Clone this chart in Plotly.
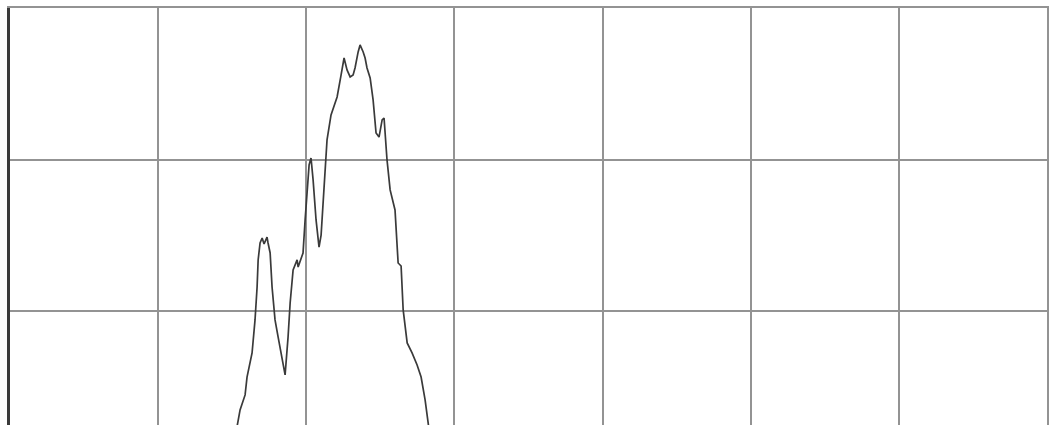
import plotly.graph_objects as go

# Trace (arbitrary units: x 0-700, y 0-300)
x_vals = [152.6, 155.3, 158.7, 160.0, 163.4, 165.4, 166.8, 167.5, 168.8, 170.2,
          171.5, 173.5, 174.2, 175.6, 176.9, 178.9, 181.0, 184.3, 185.7, 187.7,
          189.1, 191.1, 193.8, 194.5, 197.8, 199.2, 200.5, 201.9, 203.2, 204.6,
          206.6, 208.6, 210.0, 212.0, 214.0, 216.7, 220.8, 223.5, 225.5, 227.5,
          229.6, 231.6, 232.9, 235.0, 236.3, 238.4, 239.7, 241.0, 243.1, 245.1,
          247.1, 249.1, 251.2, 252.5, 253.2, 254.5, 256.6, 259.9, 262.0, 264.0,
          265.4, 268.1, 271.4, 274.8, 277.5, 280.2, 282.9]
y_vals = [20.1, 34.7, 44.6, 56.4, 72.3, 94.1, 115.8, 133.7, 144.9, 148.2,
          144.2, 148.8, 144.9, 138.3, 115.8, 94.1, 82.8, 65.7, 57.8, 82.8,
          105.3, 127.1, 133.7, 129.0, 138.3, 160.1, 179.9, 196.4, 201.0, 186.5,
          160.1, 142.2, 150.1, 179.9, 212.9, 229.4, 241.3, 255.8, 267.0, 259.1,
          254.5, 255.8, 260.4, 271.0, 275.6, 271.0, 267.0, 260.4, 253.8, 239.3,
          217.5, 214.8, 226.1, 227.4, 216.2, 199.7, 179.9, 166.7, 131.7, 129.7,
          100.7, 78.9, 72.3, 64.4, 56.4, 41.3, 21.4]

x_range = [0, 700]
y_range = [24.75, 300]
x_tick_step = 100
y_tick_step = 100

fig = go.Figure()
fig.add_trace(go.Scatter(x=x_vals, y=y_vals, mode="lines",
                         line=dict(color="#3a3a3a", width=1.7),
                         showlegend=False, hoverinfo="skip"))
# invisible trace to carry the right-hand border axis
fig.add_trace(go.Scatter(x=[None], y=[None], yaxis="y2", showlegend=False,
                         hoverinfo="skip"))

fig.update_layout(
    width=1049, height=425,
    margin=dict(l=10, r=2, t=8, b=0),
    paper_bgcolor="white", plot_bgcolor="white",
    xaxis=dict(range=x_range, dtick=x_tick_step, tick0=0, showgrid=True,
               gridcolor="#939393", gridwidth=2, zeroline=False,
               showticklabels=False, ticks="", side="top",
               showline=True, linecolor="#939393", linewidth=2),
    yaxis=dict(range=y_range, dtick=y_tick_step, tick0=0, showgrid=True,
               gridcolor="#939393", gridwidth=2, zeroline=False,
               showticklabels=False, ticks="",
               showline=True, linecolor="#3a3a3a", linewidth=3),
    yaxis2=dict(overlaying="y", side="right", range=y_range, showgrid=False,
                zeroline=False, showticklabels=False, ticks="",
                showline=True, linecolor="#939393", linewidth=2),
)

fig.write_html(
    "out.html",
    config={"displayModeBar": False},
    post_script="document.body.style.margin='0';document.body.style.overflow='hidden';",
)
